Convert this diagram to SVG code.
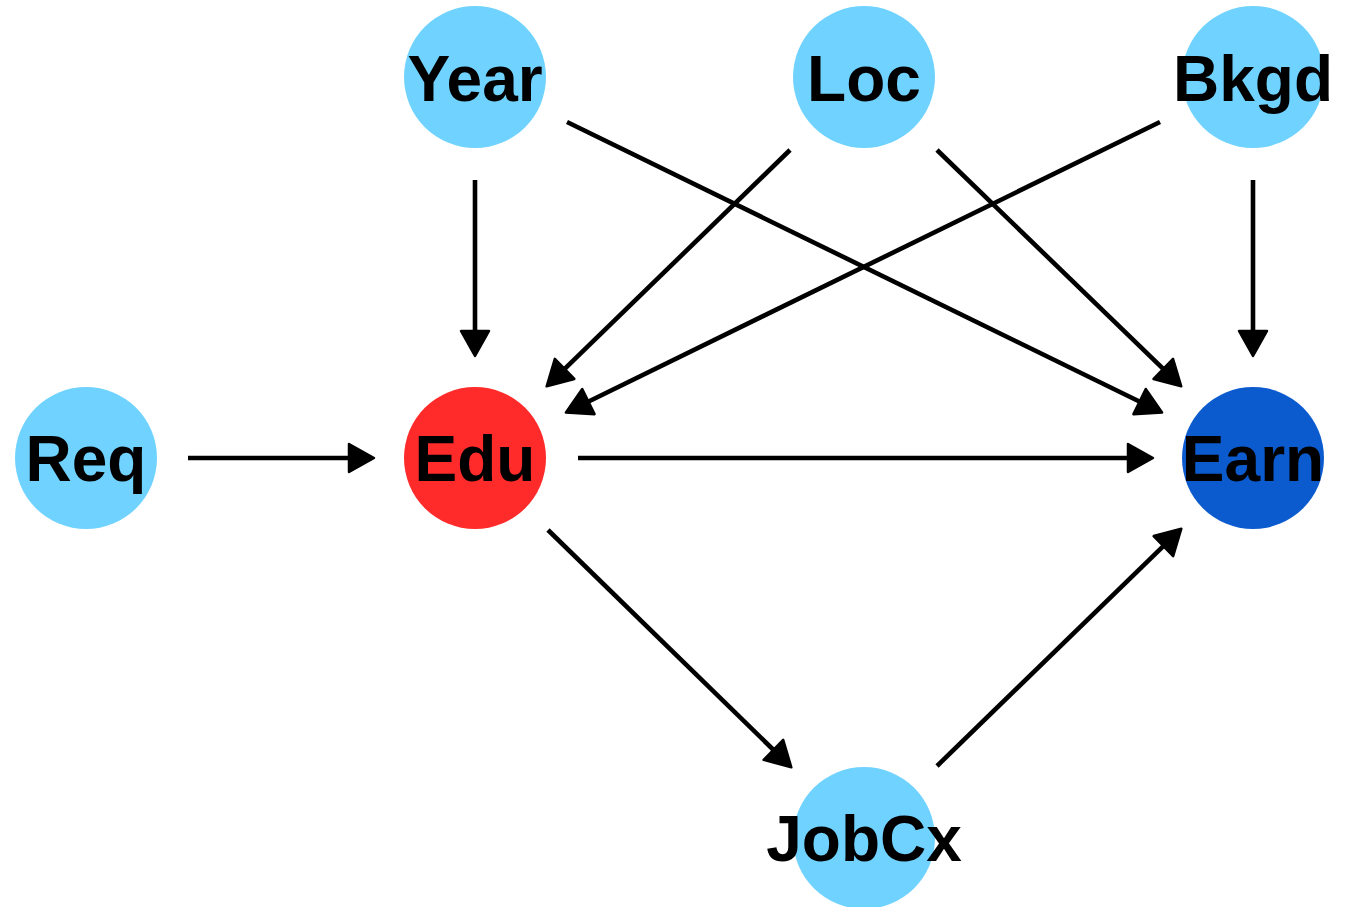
<svg xmlns="http://www.w3.org/2000/svg" width="1350" height="907" viewBox="0 0 1350 907">
<style>
.n{fill:#70D3FF}
.t{font-family:"Liberation Sans",Arial,sans-serif;font-weight:bold;font-size:64px;fill:#000;text-anchor:middle}
.e{stroke:#000;stroke-width:4.6;fill:none;marker-end:url(#ah)}
</style>
<defs>
<marker id="ah" markerUnits="userSpaceOnUse" markerWidth="34" markerHeight="34" refX="8" refY="16" orient="auto" viewBox="0 0 34 32">
<path d="M2,2 L27,16 L2,30 z" fill="#000" stroke="#000" stroke-width="2.5" stroke-linejoin="round"/>
</marker>
</defs>
<rect width="1350" height="907" fill="#fff"/>
<g id="edges">
<line class="e" x1="475" y1="180" x2="475" y2="337"/>
<line class="e" x1="567" y1="122" x2="1145" y2="404.2"/>
<line class="e" x1="790" y1="150" x2="560.3" y2="373.1"/>
<line class="e" x1="937" y1="150" x2="1167.6" y2="373.1"/>
<line class="e" x1="1160" y1="122" x2="583" y2="404.2"/>
<line class="e" x1="1253" y1="180" x2="1253" y2="337"/>
<line class="e" x1="188" y1="458" x2="355" y2="458"/>
<line class="e" x1="578" y1="458" x2="1134" y2="458"/>
<line class="e" x1="548" y1="530" x2="777.7" y2="754"/>
<line class="e" x1="937" y1="766" x2="1167.7" y2="541.9"/>
</g>
<g id="Year"><circle class="n" cx="475" cy="77" r="71"/><text class="t" x="475" y="101">Year</text></g>
<g id="Loc"><circle class="n" cx="864" cy="77" r="71"/><text class="t" x="864" y="101">Loc</text></g>
<g id="Bkgd"><circle class="n" cx="1253" cy="77" r="71"/><text class="t" x="1253" y="101">Bkgd</text></g>
<g id="Req"><circle class="n" cx="86" cy="458" r="71"/><text class="t" x="86" y="481">Req</text></g>
<g id="Edu"><circle cx="475" cy="458" r="71" fill="#FF2A2A"/><text class="t" x="475" y="481">Edu</text></g>
<g id="Earn"><circle cx="1253" cy="458" r="71" fill="#0B5BCF"/><text class="t" x="1253" y="481">Earn</text></g>
<g id="JobCx"><circle class="n" cx="864" cy="838" r="71"/><text class="t" x="864" y="861">JobCx</text></g>
</svg>
